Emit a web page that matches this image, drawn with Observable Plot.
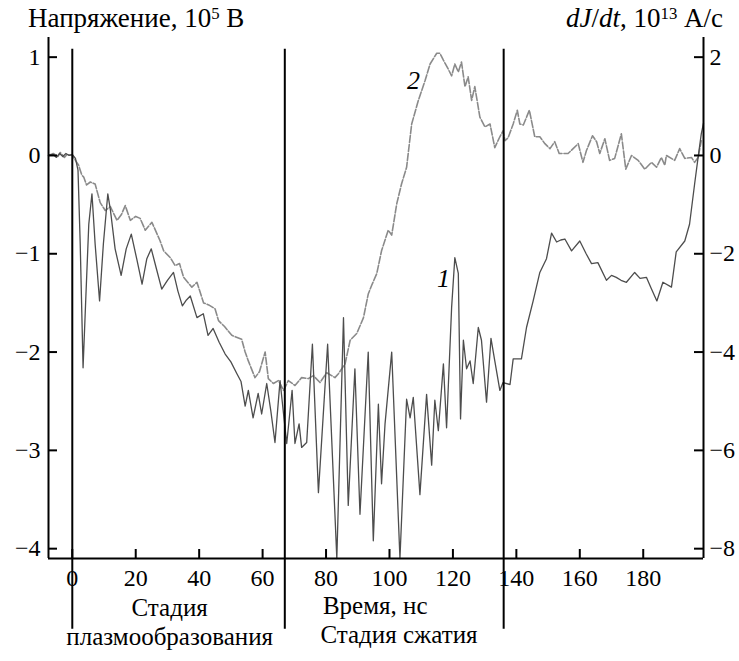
<!DOCTYPE html>
<html>
<head>
<meta charset="utf-8">
<script src="https://cdn.jsdelivr.net/npm/d3@7"></script>
<script src="https://cdn.jsdelivr.net/npm/@observablehq/plot@0.6"></script>
<style>
  html, body { margin: 0; padding: 0; background: #fff; }
  #wrap { position: relative; width: 739px; height: 661px; font-family: "Liberation Serif", "Times New Roman", "DejaVu Serif", serif; }
  .ttl { position: absolute; font-size: 27px; line-height: 1; white-space: nowrap; color: #000; }
  .ttl sup { font-size: 0.62em; vertical-align: 0.5em; line-height: 0; }
</style>
</head>
<body>
<div id="wrap">
  <div class="ttl" style="left:28px; top:5px;">Напряжение, 10<sup>5</sup> В</div>
  <div class="ttl" style="right:16px; top:5px;"><i>dJ</i>/<i>dt</i>, 10<sup>13</sup> А/с</div>
</div>
<script>
// Curve 1 (solid): time, ns and value in left-axis units (10^5 V)
const time1 = [-7.5,-6,-5,-4,-3,-2,-1,0,1,1.8,2.5,3.4,4.2,5.2,6.2,7.2,8.6,9.8,11.2,12,13.5,15.4,17,18.6,20.3,22,23.5,24.9,26.5,28.2,30,31.9,33.3,34.7,36,37.2,39.3,41.3,42.8,44.4,46.3,48.2,50,51.9,53.2,54.5,55.5,57,58.6,59.7,61.3,62.6,63.9,65.5,66.5,67.6,69.3,70.2,71.5,72.3,73.9,75.7,77.6,80.5,83.4,85.5,87,89.1,90.7,93.3,94.9,96.5,97.5,98.6,100.7,103.3,105.4,106.5,107.5,109.6,111.7,113.3,114.3,115.4,117,118,119.6,120.6,121.7,122.4,123.3,124.3,125.4,126.4,128,129,130.6,132,133.2,134.8,135.8,138,139,141.6,143.2,145.3,147.4,149.5,151.1,152.7,154,155.3,157.4,160,162,163.7,165.7,168.4,170,171.5,173,174.7,177.3,179,181,182.5,184.3,186.2,188.9,190.4,193.1,194.6,196.2,197.3,198.3,199];
const value1 = [0,0.01,-0.02,0.02,-0.01,0.02,0,0.01,-0.03,-0.15,-0.9,-2.16,-1.5,-0.7,-0.39,-0.9,-1.48,-0.9,-0.39,-0.55,-0.95,-1.22,-0.95,-0.8,-1.05,-1.31,-1.05,-0.95,-1.15,-1.36,-1.27,-1.19,-1.38,-1.53,-1.47,-1.43,-1.65,-1.61,-1.83,-1.76,-1.9,-2.02,-2.1,-2.22,-2.3,-2.55,-2.39,-2.67,-2.42,-2.63,-2.32,-2.6,-2.92,-2.29,-2.6,-2.93,-2.39,-2.93,-2.73,-2.97,-2.92,-1.92,-3.43,-1.92,-4.1,-1.65,-3.56,-2.17,-3.65,-2.0,-3.92,-2.53,-3.34,-2.73,-2.0,-4.1,-2.48,-2.67,-2.46,-3.45,-2.43,-3.15,-2.49,-2.8,-2.12,-2.77,-1.54,-1.04,-1.2,-2.68,-1.88,-2.17,-2.09,-2.32,-1.75,-1.88,-2.51,-1.86,-2.09,-2.39,-2.31,-2.33,-2.07,-2.07,-1.75,-1.48,-1.19,-1.05,-0.79,-0.88,-0.86,-0.85,-0.97,-0.87,-1.0,-1.1,-1.09,-1.27,-1.22,-1.24,-1.27,-1.29,-1.19,-1.25,-1.24,-1.35,-1.48,-1.29,-1.34,-0.98,-0.87,-0.7,-0.29,-0.02,0.22,0.33];

// Curve 2 (dashed)
const time2 = [-7.5,-6,-4.5,-3.8,-2.5,-1.7,0,1,2,3,3.6,4.5,5.7,7.2,8.8,10.4,12,14.1,15.5,16.7,18.3,20,21.4,23,25.1,27.7,28.8,30.9,32.4,33.8,35.1,37.7,39.3,41.4,43,45,46.1,48,50.3,53.4,54.5,55.5,57.6,59,60.8,61.8,63.4,65,66.6,68.1,70.2,72.3,74.4,76,78.1,80.2,82.8,83.9,86,87.6,89.7,91.8,93.3,94.4,96,97.5,99.6,100.7,102.3,103.8,105.4,107,109.1,111.2,112.8,114.9,115.9,117,118.5,119.6,120.6,121.7,122.7,123.8,124.8,125.9,126.9,128.5,130.1,131.7,133.2,134.8,135.8,136.4,137.4,139,140.3,141.1,142.2,144.1,145.8,147.4,149,150.6,152.1,153.5,156.3,157.9,159.5,161,162.1,164,165.3,166.3,167.9,169.4,171,173.1,174.5,176.3,178.4,180.5,182.6,184.2,185.7,186.8,187.3,189.9,191.5,193.1,195.2,196.2,197.3,198.3];
const value2 = [0,0.02,-0.01,0.03,-0.02,0.01,0,-0.05,-0.1,-0.2,-0.22,-0.3,-0.27,-0.29,-0.48,-0.56,-0.52,-0.66,-0.6,-0.51,-0.66,-0.62,-0.64,-0.76,-0.68,-0.87,-0.97,-1.04,-1.12,-1.1,-1.24,-1.34,-1.29,-1.5,-1.52,-1.56,-1.68,-1.74,-1.83,-1.87,-2.0,-2.09,-2.26,-2.2,-2.0,-2.27,-2.32,-2.29,-2.39,-2.29,-2.34,-2.26,-2.27,-2.24,-2.31,-2.21,-2.26,-2.22,-2.12,-1.88,-1.81,-1.65,-1.41,-1.32,-1.2,-0.97,-0.76,-0.81,-0.49,-0.29,-0.12,0.32,0.56,0.76,0.93,1.04,1.04,0.97,0.88,0.81,0.93,0.85,0.95,0.7,0.8,0.56,0.7,0.39,0.29,0.32,0.08,0.19,0.25,0.15,0.18,0.32,0.46,0.32,0.31,0.46,0.19,0.19,0.12,0.07,0.14,0.02,0.02,0.07,0.12,-0.07,0.05,0.2,0.14,0.02,0.17,-0.05,-0.03,0.22,-0.14,0,-0.05,-0.14,-0.07,-0.12,-0.02,-0.1,0,-0.05,0.07,-0.03,-0.02,-0.07,-0.02,0.15];

const xTicks = [0, 20, 40, 60, 80, 100, 120, 140, 160, 180];
const leftTicks = [1, 0, -1, -2, -3, -4];
const rightTicks = [2, 0, -2, -4, -6, -8];   // dJ/dt, 10^13 A/s (= 2 × left units)
const stageLines = [0, 67, 136];
const stageLabels = ["Стадия", "плазмообразования", "Время, нс", "Стадия сжатия"];

const series1 = time1.map((t, i) => ({t, v: value1[i]}));
const series2 = time2.map((t, i) => ({t, v: value2[i]}));
const fmtMinus = d => (d < 0 ? "\u2212" + Math.abs(d) : String(d));

const xDom = [-7.5, 199], yDom = [-4.1, 1.2];
const FONT = "'Liberation Serif', 'Times New Roman', 'DejaVu Serif', serif";
const FS = 24;   // tick labels
const FL = 25;   // text labels

const plot = Plot.plot({
  width: 739,
  height: 661,
  marginTop: 37,
  marginBottom: 103,
  marginLeft: 48,
  marginRight: 36,
  style: {fontFamily: FONT, fontSize: FS + "px", background: "transparent", overflow: "visible"},
  x: {domain: xDom},
  y: {domain: yDom},
  marks: [
    // curves
    Plot.line(series2, {x: "t", y: "v", stroke: "#8a8a8a", strokeWidth: 1.6, strokeDasharray: "7,2"}),
    Plot.line(series1, {x: "t", y: "v", stroke: "#4d4d4d", strokeWidth: 1.3}),
    // stage separators
    Plot.ruleX(stageLines, {y1: 1.08, y2: -4.82, stroke: "black", strokeWidth: 2}),
    // frame lines
    Plot.ruleX([xDom[0], xDom[1]], {stroke: "black", strokeWidth: 2}),
    Plot.ruleY([yDom[0]], {stroke: "black", strokeWidth: 2}),
    // inward ticks
    Plot.tickY(leftTicks, {y: d => d, insetRight: 646, stroke: "black", strokeWidth: 2}),
    Plot.tickY(rightTicks, {y: d => d / 2, insetLeft: 646, stroke: "black", strokeWidth: 2}),
    Plot.tickX(xTicks, {x: d => d, insetTop: 512, stroke: "black", strokeWidth: 2}),
    // tick labels
    Plot.axisX({ticks: xTicks, tickSize: 0, tickPadding: 10, label: null, fontSize: FS, fontFamily: FONT, tickFormat: fmtMinus}),
    Plot.axisY({ticks: leftTicks, anchor: "left", tickSize: 0, tickPadding: 8, label: null, fontSize: FS, fontFamily: FONT, tickFormat: fmtMinus}),
    Plot.axisY({ticks: rightTicks.map(d => d / 2), anchor: "right", tickSize: 0, tickPadding: 6, label: null, fontSize: FS, fontFamily: FONT,
      tickFormat: d => fmtMinus(d * 2)}),
    // curve labels
    Plot.text(["2"], {x: 107.6, y: 0.76, fontStyle: "italic", fontSize: 26, fontFamily: FONT}),
    Plot.text(["1"], {x: 117, y: -1.25, fontStyle: "italic", fontSize: 26, fontFamily: FONT}),
    // stage labels under the axis
    Plot.text([stageLabels[0]], {x: 30.7, frameAnchor: "bottom", dy: 57, fontSize: FL, fontFamily: FONT}),
    Plot.text([stageLabels[1]], {x: 30.7, frameAnchor: "bottom", dy: 86, fontSize: FL, fontFamily: FONT}),
    Plot.text([stageLabels[2]], {x: 95.5, frameAnchor: "bottom", dy: 55, fontSize: FL, fontFamily: FONT}),
    Plot.text([stageLabels[3]], {x: 103, frameAnchor: "bottom", dy: 84, fontSize: FL, fontFamily: FONT})
  ]
});
plot.style.position = "absolute";
plot.style.left = "0px";
plot.style.top = "0px";
document.getElementById("wrap").prepend(plot);
</script>
</body>
</html>
